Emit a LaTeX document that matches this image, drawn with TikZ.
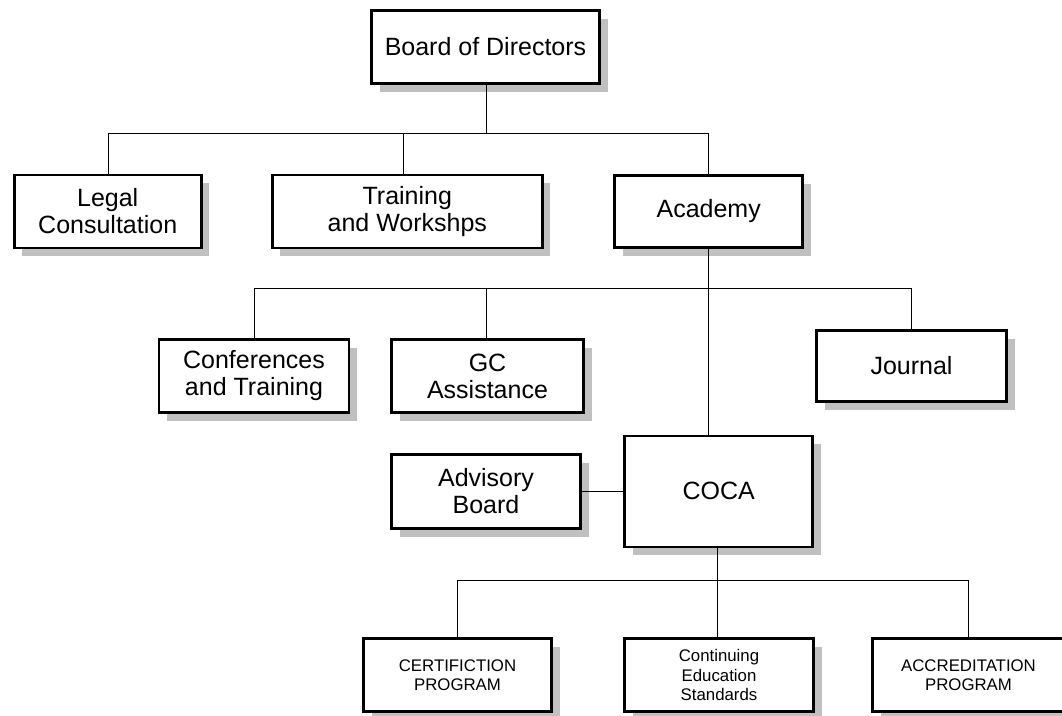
\documentclass[tikz,border=0pt]{standalone}
\usepackage{fontspec}
\setmainfont{Liberation Sans}
\usetikzlibrary{shadows}
\definecolor{shgray}{RGB}{192,192,192}
\begin{document}
\begin{tikzpicture}[x=1pt,y=-1pt,
  box/.style={draw=black, line width=2.6pt, fill=white, inner sep=0pt, align=center,
    font=\fontsize{25}{27}\selectfont,
    drop shadow={shadow xshift=8pt, shadow yshift=-8pt, fill=shgray, opacity=1}},
  sbox/.style={box, font=\fontsize{16.8}{19.5}\selectfont},
  conn/.style={line width=1pt, black}]
\useasboundingbox (0,0) rectangle (1062,715);

% level 0
\node[box, minimum width=228pt, minimum height=73pt] (bod) at (485.5,47) {Board of Directors};
% level 1
\node[box, minimum width=187pt, minimum height=73pt] (legal) at (107.7,211.3) {Legal\\Consultation};
\node[box, minimum width=270pt, minimum height=73pt] (train) at (407.3,211.4) {Training\\and Workshps};
\node[box, minimum width=188pt, minimum height=72pt] (acad) at (708.7,211.5) {Academy};
% level 2
\node[box, minimum width=190pt, minimum height=73pt] (conf) at (254,376) {Conferences\\and Training};
\node[box, minimum width=192pt, minimum height=73pt] (gc) at (487.5,376) {GC\\Assistance};
\node[box, minimum width=190pt, minimum height=71pt] (journal) at (911.5,366) {Journal};
\node[box, minimum width=189pt, minimum height=74pt] (adv) at (486,491.5) {Advisory\\Board};
\node[box, minimum width=188pt, minimum height=111pt] (coca) at (718.7,491.3) {COCA};
% level 3
\node[sbox, minimum width=188pt, minimum height=73pt] (cert) at (457.5,675) {CERTIFICTION\\PROGRAM};
\node[sbox, minimum width=189pt, minimum height=73pt] (cont) at (719,675) {Continuing\\Education\\Standards};
\node[sbox, minimum width=192pt, minimum height=73pt] (accr) at (968.5,675) {ACCREDITATION\\PROGRAM};

% connectors level 0 -> 1
\coordinate (b0) at (486.7,133);
\coordinate (b1) at (108,133);
\coordinate (b2) at (403.3,133);
\coordinate (b3) at (708.3,133);
\draw[conn] (b0 |- bod.south) -- (b0);
\draw[conn] (b1) -- (b3);
\draw[conn] (b1) -- (b1 |- legal.north);
\draw[conn] (b2) -- (b2 |- train.north);
\draw[conn] (b3) -- (b3 |- acad.north);

% Academy -> level 2
\coordinate (c0) at (708.3,288.3);
\coordinate (c1) at (254.3,288.3);
\coordinate (c2) at (486.7,288.3);
\coordinate (c3) at (911.7,288.3);
\draw[conn] (c0 |- acad.south) -- (c0 |- coca.north);
\draw[conn] (c1) -- (c3);
\draw[conn] (c1) -- (c1 |- conf.north);
\draw[conn] (c2) -- (c2 |- gc.north);
\draw[conn] (c3) -- (c3 |- journal.north);

% Advisory -> COCA
\draw[conn] (adv.east) -- (adv.east -| coca.west);

% COCA -> level 3
\coordinate (d0) at (717.7,580.7);
\coordinate (d1) at (457.3,580.7);
\coordinate (d3) at (968.7,580.7);
\draw[conn] (d0 |- coca.south) -- (d0 |- cont.north);
\draw[conn] (d1) -- (d3);
\draw[conn] (d1) -- (d1 |- cert.north);
\draw[conn] (d3) -- (d3 |- accr.north);
\end{tikzpicture}
\end{document}
